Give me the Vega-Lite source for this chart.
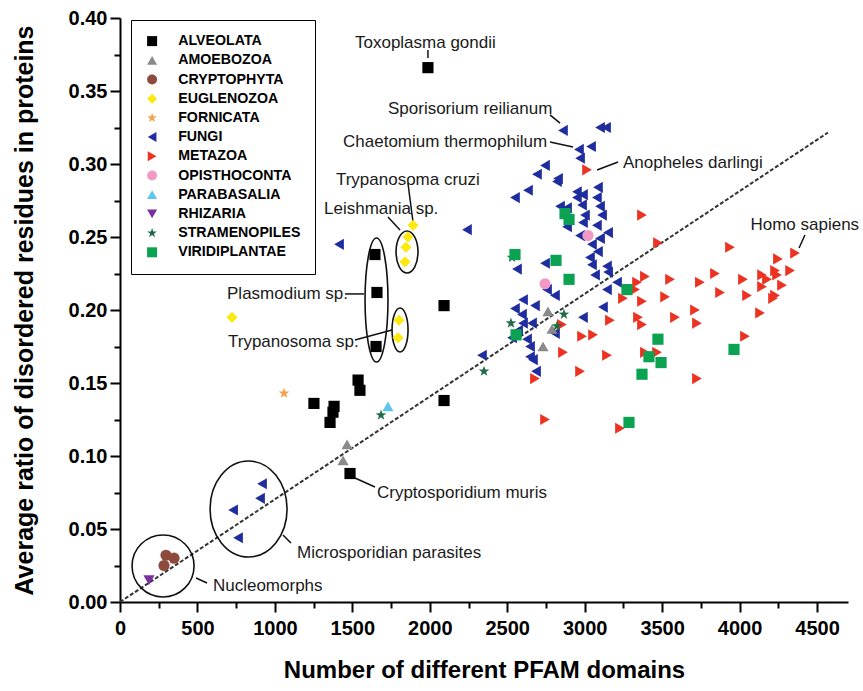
{
  "$schema": "https://vega.github.io/schema/vega-lite/v6.json",
  "width": 728,
  "height": 584,
  "autosize": {"type": "none"},
  "padding": {"left": 120, "top": 18, "right": 15, "bottom": 89},
  "background": "#ffffff",
  "config": {
    "view": {"stroke": null},
    "font": "Liberation Sans"
  },
  "datasets": {
    "pts": [
      {"group":"FUNGI","pfam":917,"ratio":0.081},{"group":"FUNGI","pfam":904,"ratio":0.071},{"group":"FUNGI","pfam":730,"ratio":0.063},{"group":"FUNGI","pfam":762,"ratio":0.044},
      {"group":"FUNGI","pfam":1414,"ratio":0.245},{"group":"FUNGI","pfam":2240,"ratio":0.255},{"group":"FUNGI","pfam":2550,"ratio":0.277},{"group":"FUNGI","pfam":2634,"ratio":0.282},
      {"group":"FUNGI","pfam":2563,"ratio":0.228},{"group":"FUNGI","pfam":2744,"ratio":0.232},{"group":"FUNGI","pfam":2821,"ratio":0.288},{"group":"FUNGI","pfam":2860,"ratio":0.323},
      {"group":"FUNGI","pfam":3099,"ratio":0.325},{"group":"FUNGI","pfam":3138,"ratio":0.325},{"group":"FUNGI","pfam":2963,"ratio":0.310},{"group":"FUNGI","pfam":2970,"ratio":0.304},
      {"group":"FUNGI","pfam":3041,"ratio":0.312},{"group":"FUNGI","pfam":2744,"ratio":0.299},{"group":"FUNGI","pfam":2692,"ratio":0.293},{"group":"FUNGI","pfam":2828,"ratio":0.290},
      {"group":"FUNGI","pfam":3086,"ratio":0.284},{"group":"FUNGI","pfam":2950,"ratio":0.277},{"group":"FUNGI","pfam":2989,"ratio":0.279},{"group":"FUNGI","pfam":3079,"ratio":0.277},
      {"group":"FUNGI","pfam":2841,"ratio":0.271},{"group":"FUNGI","pfam":2886,"ratio":0.270},{"group":"FUNGI","pfam":2983,"ratio":0.272},{"group":"FUNGI","pfam":3099,"ratio":0.271},
      {"group":"FUNGI","pfam":3002,"ratio":0.265},{"group":"FUNGI","pfam":3112,"ratio":0.265},{"group":"FUNGI","pfam":2886,"ratio":0.257},{"group":"FUNGI","pfam":2989,"ratio":0.260},
      {"group":"FUNGI","pfam":3079,"ratio":0.258},{"group":"FUNGI","pfam":3151,"ratio":0.253},{"group":"FUNGI","pfam":2970,"ratio":0.251},{"group":"FUNGI","pfam":3099,"ratio":0.249},
      {"group":"FUNGI","pfam":3047,"ratio":0.245},{"group":"FUNGI","pfam":3086,"ratio":0.240},{"group":"FUNGI","pfam":3034,"ratio":0.236},{"group":"FUNGI","pfam":3144,"ratio":0.230},
      {"group":"FUNGI","pfam":3047,"ratio":0.231},{"group":"FUNGI","pfam":3067,"ratio":0.224},{"group":"FUNGI","pfam":3151,"ratio":0.226},{"group":"FUNGI","pfam":3209,"ratio":0.219},
      {"group":"FUNGI","pfam":3144,"ratio":0.214},{"group":"FUNGI","pfam":2757,"ratio":0.214},{"group":"FUNGI","pfam":2808,"ratio":0.210},{"group":"FUNGI","pfam":2602,"ratio":0.207},
      {"group":"FUNGI","pfam":2679,"ratio":0.203},{"group":"FUNGI","pfam":2550,"ratio":0.201},{"group":"FUNGI","pfam":2595,"ratio":0.197},{"group":"FUNGI","pfam":2660,"ratio":0.191},
      {"group":"FUNGI","pfam":2602,"ratio":0.191},{"group":"FUNGI","pfam":2570,"ratio":0.186},{"group":"FUNGI","pfam":2628,"ratio":0.180},{"group":"FUNGI","pfam":2647,"ratio":0.175},
      {"group":"FUNGI","pfam":2531,"ratio":0.181},{"group":"FUNGI","pfam":2647,"ratio":0.168},{"group":"FUNGI","pfam":2666,"ratio":0.166},{"group":"FUNGI","pfam":2808,"ratio":0.184},
      {"group":"FUNGI","pfam":2989,"ratio":0.195},{"group":"FUNGI","pfam":2337,"ratio":0.169},{"group":"FUNGI","pfam":2686,"ratio":0.158},{"group":"FUNGI","pfam":3118,"ratio":0.202},
      {"group":"FUNGI","pfam":2950,"ratio":0.281},
      {"group":"METAZOA","pfam":3015,"ratio":0.296},{"group":"METAZOA","pfam":3370,"ratio":0.265},{"group":"METAZOA","pfam":3473,"ratio":0.246},{"group":"METAZOA","pfam":3938,"ratio":0.243},
      {"group":"METAZOA","pfam":4358,"ratio":0.239},{"group":"METAZOA","pfam":4248,"ratio":0.235},{"group":"METAZOA","pfam":4326,"ratio":0.227},{"group":"METAZOA","pfam":4229,"ratio":0.227},
      {"group":"METAZOA","pfam":4145,"ratio":0.224},{"group":"METAZOA","pfam":4177,"ratio":0.221},{"group":"METAZOA","pfam":4242,"ratio":0.224},{"group":"METAZOA","pfam":4274,"ratio":0.217},
      {"group":"METAZOA","pfam":4145,"ratio":0.216},{"group":"METAZOA","pfam":4229,"ratio":0.210},{"group":"METAZOA","pfam":4216,"ratio":0.208},{"group":"METAZOA","pfam":3841,"ratio":0.225},
      {"group":"METAZOA","pfam":4022,"ratio":0.221},{"group":"METAZOA","pfam":3744,"ratio":0.219},{"group":"METAZOA","pfam":3551,"ratio":0.221},{"group":"METAZOA","pfam":3389,"ratio":0.223},
      {"group":"METAZOA","pfam":3338,"ratio":0.219},{"group":"METAZOA","pfam":3325,"ratio":0.214},{"group":"METAZOA","pfam":3247,"ratio":0.208},{"group":"METAZOA","pfam":3370,"ratio":0.206},
      {"group":"METAZOA","pfam":3519,"ratio":0.209},{"group":"METAZOA","pfam":3874,"ratio":0.212},{"group":"METAZOA","pfam":4048,"ratio":0.210},{"group":"METAZOA","pfam":3712,"ratio":0.200},
      {"group":"METAZOA","pfam":4132,"ratio":0.198},{"group":"METAZOA","pfam":3583,"ratio":0.195},{"group":"METAZOA","pfam":3344,"ratio":0.195},{"group":"METAZOA","pfam":3370,"ratio":0.190},
      {"group":"METAZOA","pfam":3163,"ratio":0.193},{"group":"METAZOA","pfam":3725,"ratio":0.191},{"group":"METAZOA","pfam":2983,"ratio":0.182},{"group":"METAZOA","pfam":3054,"ratio":0.183},
      {"group":"METAZOA","pfam":2860,"ratio":0.171},{"group":"METAZOA","pfam":3144,"ratio":0.169},{"group":"METAZOA","pfam":3389,"ratio":0.171},{"group":"METAZOA","pfam":3467,"ratio":0.171},
      {"group":"METAZOA","pfam":4035,"ratio":0.182},{"group":"METAZOA","pfam":2970,"ratio":0.158},{"group":"METAZOA","pfam":3725,"ratio":0.153},{"group":"METAZOA","pfam":3228,"ratio":0.119},
      {"group":"METAZOA","pfam":2679,"ratio":0.153},{"group":"METAZOA","pfam":2744,"ratio":0.125},{"group":"METAZOA","pfam":2853,"ratio":0.190},
      {"group":"ALVEOLATA","pfam":1988,"ratio":0.366},{"group":"ALVEOLATA","pfam":1646,"ratio":0.238},{"group":"ALVEOLATA","pfam":1659,"ratio":0.212},{"group":"ALVEOLATA","pfam":1653,"ratio":0.175},
      {"group":"ALVEOLATA","pfam":2092,"ratio":0.203},{"group":"ALVEOLATA","pfam":1537,"ratio":0.152},{"group":"ALVEOLATA","pfam":1549,"ratio":0.145},{"group":"ALVEOLATA","pfam":1252,"ratio":0.136},
      {"group":"ALVEOLATA","pfam":1382,"ratio":0.134},{"group":"ALVEOLATA","pfam":1375,"ratio":0.130},{"group":"ALVEOLATA","pfam":1356,"ratio":0.123},{"group":"ALVEOLATA","pfam":2092,"ratio":0.138},
      {"group":"ALVEOLATA","pfam":1485,"ratio":0.088},
      {"group":"AMOEBOZOA","pfam":1466,"ratio":0.108},{"group":"AMOEBOZOA","pfam":1440,"ratio":0.097},{"group":"AMOEBOZOA","pfam":2763,"ratio":0.199},{"group":"AMOEBOZOA","pfam":2789,"ratio":0.187},{"group":"AMOEBOZOA","pfam":2731,"ratio":0.175},
      {"group":"CRYPTOPHYTA","pfam":297,"ratio":0.032},{"group":"CRYPTOPHYTA","pfam":349,"ratio":0.030},{"group":"CRYPTOPHYTA","pfam":284,"ratio":0.025},
      {"group":"EUGLENOZOA","pfam":723,"ratio":0.195},{"group":"EUGLENOZOA","pfam":1892,"ratio":0.258},{"group":"EUGLENOZOA","pfam":1859,"ratio":0.250},{"group":"EUGLENOZOA","pfam":1846,"ratio":0.243},
      {"group":"EUGLENOZOA","pfam":1840,"ratio":0.233},{"group":"EUGLENOZOA","pfam":1801,"ratio":0.193},{"group":"EUGLENOZOA","pfam":1795,"ratio":0.181},
      {"group":"FORNICATA","pfam":1059,"ratio":0.143},
      {"group":"OPISTHOCONTA","pfam":3021,"ratio":0.251},{"group":"OPISTHOCONTA","pfam":2744,"ratio":0.218},
      {"group":"PARABASALIA","pfam":1730,"ratio":0.134},
      {"group":"RHIZARIA","pfam":187,"ratio":0.015},
      {"group":"STRAMENOPILES","pfam":1685,"ratio":0.128},{"group":"STRAMENOPILES","pfam":2350,"ratio":0.158},{"group":"STRAMENOPILES","pfam":2531,"ratio":0.236},
      {"group":"STRAMENOPILES","pfam":2524,"ratio":0.191},{"group":"STRAMENOPILES","pfam":2821,"ratio":0.189},{"group":"STRAMENOPILES","pfam":2866,"ratio":0.197},
      {"group":"VIRIDIPLANTAE","pfam":2550,"ratio":0.238},{"group":"VIRIDIPLANTAE","pfam":2815,"ratio":0.234},{"group":"VIRIDIPLANTAE","pfam":2899,"ratio":0.221},{"group":"VIRIDIPLANTAE","pfam":2873,"ratio":0.266},
      {"group":"VIRIDIPLANTAE","pfam":2899,"ratio":0.262},{"group":"VIRIDIPLANTAE","pfam":2557,"ratio":0.183},{"group":"VIRIDIPLANTAE","pfam":3273,"ratio":0.214},{"group":"VIRIDIPLANTAE","pfam":3473,"ratio":0.180},
      {"group":"VIRIDIPLANTAE","pfam":3415,"ratio":0.168},{"group":"VIRIDIPLANTAE","pfam":3493,"ratio":0.164},{"group":"VIRIDIPLANTAE","pfam":3370,"ratio":0.156},{"group":"VIRIDIPLANTAE","pfam":3964,"ratio":0.173},
      {"group":"VIRIDIPLANTAE","pfam":3286,"ratio":0.123}
    ],
    "fit": [{"pfam": 0, "ratio": 0}, {"pfam": 4570, "ratio": 0.3215}],
    "ell": [
      {"name": "Plasmodium", "pfam": 1656, "ratio": 0.2068},
      {"name": "Leishmania", "pfam": 1853, "ratio": 0.2397},
      {"name": "Trypanosoma", "pfam": 1808, "ratio": 0.1863},
      {"name": "Microsporidian", "pfam": 830, "ratio": 0.0637},
      {"name": "Nucleomorphs", "pfam": 278, "ratio": 0.0247}
    ],
    "lab": [
      {"text": "Toxoplasma gondii", "pfam": 1517, "ratio": 0.383},
      {"text": "Sporisorium reilianum", "pfam": 1730, "ratio": 0.338},
      {"text": "Chaetomium thermophilum", "pfam": 1440, "ratio": 0.315},
      {"text": "Anopheles darlingi", "pfam": 3247, "ratio": 0.301},
      {"text": "Trypanosoma cruzi", "pfam": 1394, "ratio": 0.289},
      {"text": "Leishmania sp.", "pfam": 1317, "ratio": 0.269},
      {"text": "Plasmodium sp.", "pfam": 691, "ratio": 0.211},
      {"text": "Trypanosoma sp.", "pfam": 697, "ratio": 0.178},
      {"text": "Cryptosporidium muris", "pfam": 1659, "ratio": 0.0747},
      {"text": "Microsporidian parasites", "pfam": 1143, "ratio": 0.0336},
      {"text": "Nucleomorphs", "pfam": 600, "ratio": 0.011},
      {"text": "Homo sapiens", "pfam": 4070, "ratio": 0.258}
    ],
    "lead": [
      {"x1": 1988, "y1": 0.378, "x2": 1988, "y2": 0.3726},
      {"x1": 2776, "y1": 0.3336, "x2": 2841, "y2": 0.328},
      {"x1": 2776, "y1": 0.315, "x2": 2925, "y2": 0.3116},
      {"x1": 3080, "y1": 0.2959, "x2": 3215, "y2": 0.3014},
      {"x1": 1859, "y1": 0.287, "x2": 1892, "y2": 0.260},
      {"x1": 1730, "y1": 0.2637, "x2": 1808, "y2": 0.2548},
      {"x1": 1453, "y1": 0.211, "x2": 1575, "y2": 0.211},
      {"x1": 1517, "y1": 0.1795, "x2": 1756, "y2": 0.1863},
      {"x1": 1517, "y1": 0.0849, "x2": 1646, "y2": 0.0788},
      {"x1": 1052, "y1": 0.0459, "x2": 1104, "y2": 0.0404},
      {"x1": 491, "y1": 0.0164, "x2": 562, "y2": 0.0130},
      {"x1": 4422, "y1": 0.2514, "x2": 4384, "y2": 0.2425}
    ]
  },
  "resolve": {"scale": {"shape": "independent", "color": "independent"}, "axis": {"x": "independent", "y": "independent"}},
  "layer": [
    {
      "data": {"name": "fit"},
      "mark": {"type": "line", "stroke": "#333333", "strokeWidth": 2, "strokeDash": [4, 2]},
      "encoding": {
        "x": {"field": "pfam", "type": "quantitative", "scale": {"domain": [0, 4700], "nice": false, "zero": false},
              "axis": {"orient": "bottom", "values": [250, 750, 1250, 1750, 2250, 2750, 3250, 3750, 4250], "labels": false, "domain": false, "grid": false, "title": null, "tickSize": 6, "tickWidth": 2, "tickColor": "#000000"}},
        "y": {"field": "ratio", "type": "quantitative", "scale": {"domain": [0, 0.4], "nice": false, "zero": false},
              "axis": {"orient": "left", "values": [0.025, 0.075, 0.125, 0.175, 0.225, 0.275, 0.325, 0.375], "labels": false, "domain": false, "grid": false, "title": null, "tickSize": 6, "tickWidth": 2, "tickColor": "#000000"}}
      }
    },
    {
      "data": {"name": "ell"},
      "mark": {"type": "point", "filled": false, "stroke": "#111111", "strokeWidth": 1.6, "size": 15376, "opacity": 1},
      "encoding": {
        "x": {"field": "pfam", "type": "quantitative", "axis": null},
        "y": {"field": "ratio", "type": "quantitative", "axis": null},
        "shape": {"field": "name", "type": "nominal", "legend": null,
          "scale": {"domain": ["Plasmodium", "Leishmania", "Trypanosoma", "Microsporidian", "Nucleomorphs"],
            "range": [
              "M0.185,0 C0.185,0.5523 0.1022,1 0,1 C-0.1022,1 -0.185,0.5523 -0.185,0 C-0.185,-0.5523 -0.1022,-1 0,-1 C0.1022,-1 0.185,-0.5523 0.185,0 Z",
              "M0.177,0 C0.177,0.1872 0.0978,0.339 0,0.339 C-0.0978,0.339 -0.177,0.1872 -0.177,0 C-0.177,-0.1872 -0.0978,-0.339 0,-0.339 C0.0978,-0.339 0.177,-0.1872 0.177,0 Z",
              "M0.129,0 C0.129,0.1961 0.0712,0.355 0,0.355 C-0.0712,0.355 -0.129,0.1961 -0.129,0 C-0.129,-0.1961 -0.0712,-0.355 0,-0.355 C0.0712,-0.355 0.129,-0.1961 0.129,0 Z",
              "M0.621,0 C0.621,0.4275 0.343,0.774 0,0.774 C-0.343,0.774 -0.621,0.4275 -0.621,0 C-0.621,-0.4275 -0.343,-0.774 0,-0.774 C0.343,-0.774 0.621,-0.4275 0.621,0 Z",
              "M0.5,0 C0.5,0.2762 0.2762,0.5 0,0.5 C-0.2762,0.5 -0.5,0.2762 -0.5,0 C-0.5,-0.2762 -0.2762,-0.5 0,-0.5 C0.2762,-0.5 0.5,-0.2762 0.5,0 Z"
            ]}}
      }
    },
    {
      "data": {"name": "lead"},
      "mark": {"type": "rule", "stroke": "#111111", "strokeWidth": 1.5},
      "encoding": {
        "x": {"field": "x1", "type": "quantitative", "axis": null},
        "y": {"field": "y1", "type": "quantitative", "axis": null},
        "x2": {"field": "x2"},
        "y2": {"field": "y2"}
      }
    },
    {
      "data": {"name": "lab"},
      "mark": {"type": "text", "font": "Liberation Sans", "fontSize": 17, "fill": "#1a1a1a", "baseline": "middle", "align": "left"},
      "encoding": {
        "x": {"field": "pfam", "type": "quantitative", "axis": null},
        "y": {"field": "ratio", "type": "quantitative", "axis": null},
        "text": {"field": "text"}
      }
    },
    {
      "data": {"name": "pts"},
      "mark": {"type": "point", "filled": true, "size": 125, "opacity": 1},
      "encoding": {
        "x": {"field": "pfam", "type": "quantitative",
              "axis": {"orient": "bottom", "values": [0, 500, 1000, 1500, 2000, 2500, 3000, 3500, 4000, 4500], "format": "d", "grid": false,
                       "title": "Number of different PFAM domains", "titleFont": "Liberation Sans", "titleFontSize": 24, "titleFontWeight": "bold", "titleColor": "#000000", "titlePadding": 20,
                       "labelFont": "Liberation Sans", "labelFontSize": 20, "labelFontWeight": "bold", "labelColor": "#000000", "labelPadding": 6, "labelFlush": false,
                       "tickSize": 10, "tickWidth": 2, "tickColor": "#000000", "domainColor": "#000000", "domainWidth": 2}},
        "y": {"field": "ratio", "type": "quantitative",
              "axis": {"orient": "left", "values": [0, 0.05, 0.1, 0.15, 0.2, 0.25, 0.3, 0.35, 0.4], "format": ".2f", "grid": false,
                       "title": "Average ratio of disordered residues in proteins", "titleFont": "Liberation Sans", "titleFontSize": 25, "titleFontWeight": "bold", "titleColor": "#000000", "titlePadding": 31,
                       "labelFont": "Liberation Sans", "labelFontSize": 20, "labelFontWeight": "bold", "labelColor": "#000000", "labelPadding": 3, "labelFlush": false,
                       "tickSize": 10, "tickWidth": 2, "tickColor": "#000000", "domainColor": "#000000", "domainWidth": 2}},
        "color": {"field": "group", "type": "nominal",
          "scale": {"domain": ["ALVEOLATA","AMOEBOZOA","CRYPTOPHYTA","EUGLENOZOA","FORNICATA","FUNGI","METAZOA","OPISTHOCONTA","PARABASALIA","RHIZARIA","STRAMENOPILES","VIRIDIPLANTAE"],
                    "range": ["#000000","#8a8a8a","#8e4a3a","#fde910","#f5a04a","#1f2d9e","#ec3322","#f29ac4","#5ec6ee","#7a2fa0","#1f6b45","#0ba352"]},
          "legend": {"title": null, "orient": "none", "legendX": 11, "legendY": 2, "strokeColor": "#000000", "padding": 14, "fillColor": "#ffffff",
                     "labelFont": "Liberation Sans", "labelFontSize": 14.2, "labelFontWeight": "bold", "labelColor": "#000000", "labelOffset": 19,
                     "rowPadding": 4.2, "symbolSize": 100, "symbolStrokeWidth": 0}},
        "shape": {"field": "group", "type": "nominal",
          "scale": {"domain": ["ALVEOLATA","AMOEBOZOA","CRYPTOPHYTA","EUGLENOZOA","FORNICATA","FUNGI","METAZOA","OPISTHOCONTA","PARABASALIA","RHIZARIA","STRAMENOPILES","VIRIDIPLANTAE"],
                    "range": ["square","triangle-up","circle","diamond",
                              "M0,-1L0.235,-0.324L0.951,-0.309L0.38,0.124L0.588,0.809L0,0.4L-0.588,0.809L-0.38,0.124L-0.951,-0.309L-0.235,-0.324Z",
                              "triangle-left","triangle-right","circle","triangle-up","triangle-down",
                              "M0,-1L0.235,-0.324L0.951,-0.309L0.38,0.124L0.588,0.809L0,0.4L-0.588,0.809L-0.38,0.124L-0.951,-0.309L-0.235,-0.324Z",
                              "square"]},
          "legend": {"title": null, "orient": "none", "legendX": 11, "legendY": 2, "strokeColor": "#000000", "padding": 14,
                     "labelFont": "Liberation Sans", "labelFontSize": 14.2, "labelFontWeight": "bold", "labelColor": "#000000", "labelOffset": 19,
                     "rowPadding": 4.2, "symbolSize": 100, "symbolStrokeWidth": 0}}
      }
    }
  ]
}
